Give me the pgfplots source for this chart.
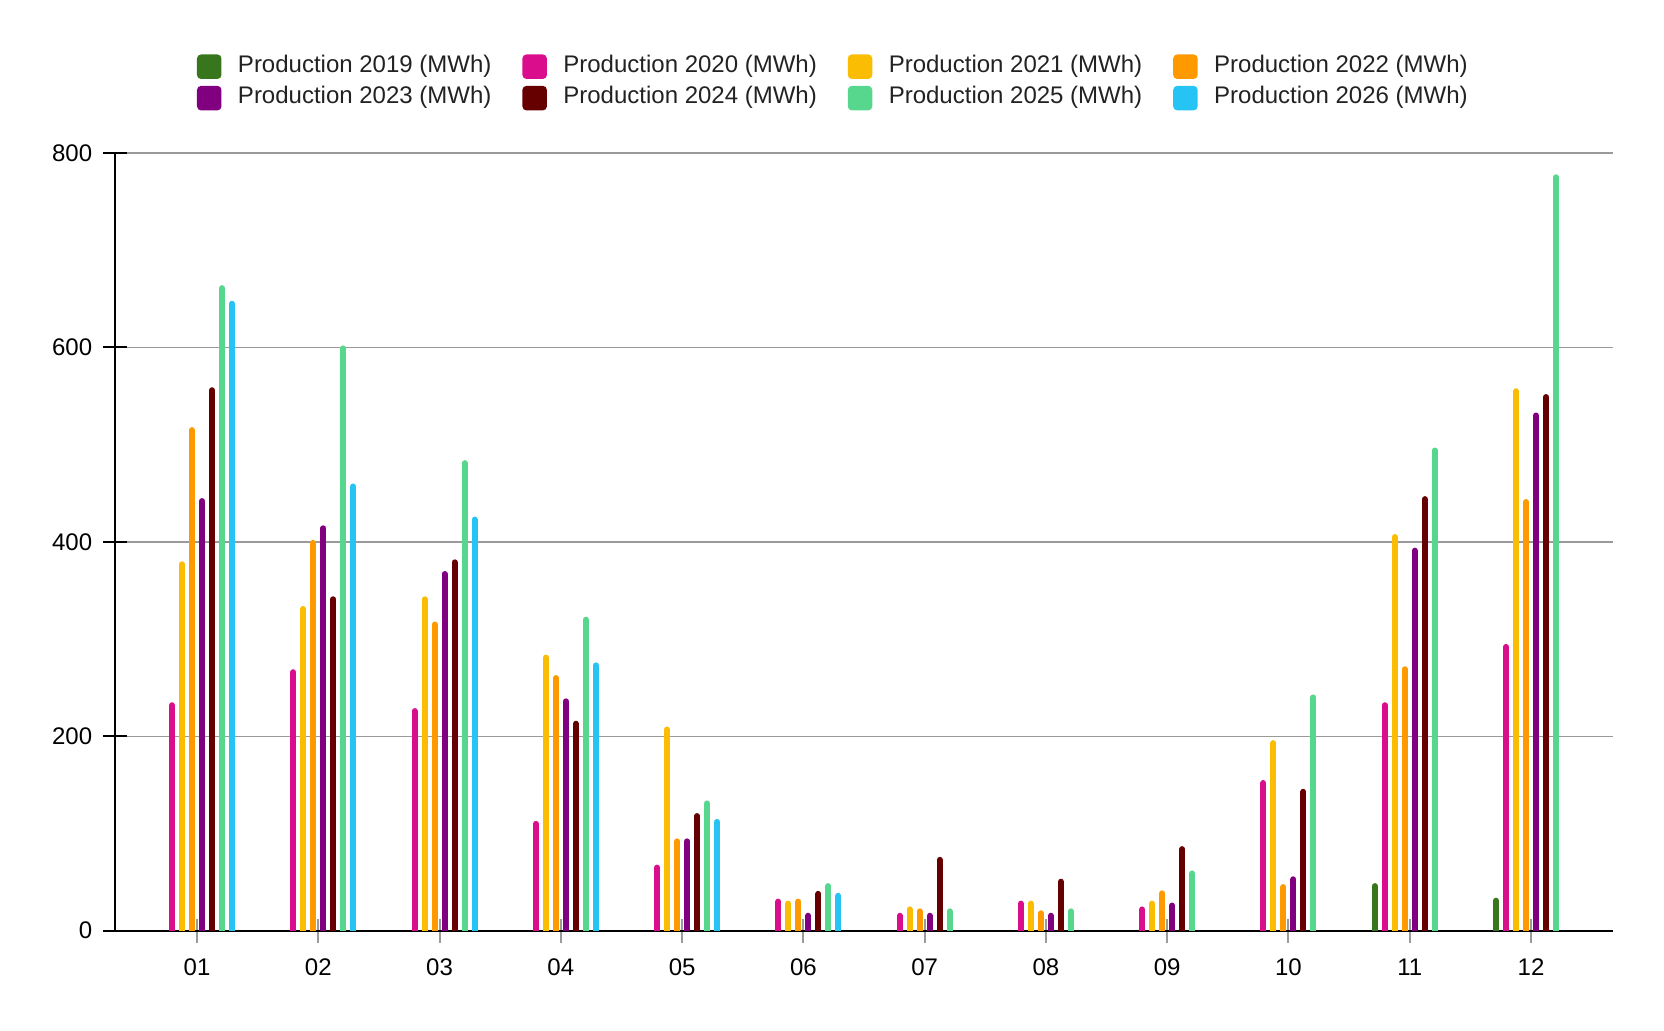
\documentclass[border=0pt]{standalone}
\usepackage{fontspec}
\setmainfont{Liberation Sans}
\usepackage{pgfplots}
\usepackage{pgfplotstable}
\pgfplotsset{compat=1.18}

\definecolor{c19}{HTML}{38761D}
\definecolor{c20}{HTML}{DA0E8C}
\definecolor{c21}{HTML}{FBBC04}
\definecolor{c22}{HTML}{FF9900}
\definecolor{c23}{HTML}{800080}
\definecolor{c24}{HTML}{660000}
\definecolor{c25}{HTML}{57D68D}
\definecolor{c26}{HTML}{26C4F4}
\definecolor{gridgray}{HTML}{9A9A9A}
\definecolor{legtext}{HTML}{222222}

\pgfplotstableread{
m  v19 v20  v21 v22  v23  v24  v25 v26
1  nan 235  380 518  445  559  664 648
2  nan 269  334 402  417  344  602 460
3  nan 229  344 318  370  382  484 426
4  nan 113  284 263  239  216  323 276
5  nan 68   210 95   95   121  134 115
6  nan 33   31  33   18.5 41   49  39
7  nan 18.5 25  23   18.5 76   23  nan
8  nan 31   31  21   18.5 53.5 23  nan
9  nan 25   31  41.5 29   87   62  nan
10 nan 155  196 48   56   146  243 nan
11 49  235  408 272  394  447  497 nan
12 34  295  558 444  533  552  778 nan
}\data

\pgfplotsset{
  mybar/.style={ycomb, line width=3pt, line cap=round, mark=none, color=#1, yshift=-1.5pt,
    legend image code/.code={\fill[#1, draw=none, line width=0pt, rounded corners=2pt] (0pt,-6.125pt) rectangle (12.25pt,6.125pt); \path[draw=none] (20.5pt,0pt);}},
}
\newcommand{\lt}[1]{\makebox[142.2pt][l]{#1}}

\begin{document}
\begin{tikzpicture}
\useasboundingbox (-57.5pt,-49.65pt) rectangle (774.5pt,465.35pt);
\begin{axis}[
  at={(0pt,0pt)}, anchor=south west, scale only axis,
  width=748.85pt, height=388.9pt,
  xmin=0.3238, xmax=12.6737, ymin=0, ymax=800,
  axis lines*=left,
  axis line style={black, line width=1pt},
  xtick={1,...,12},
  xticklabels={01,02,03,04,05,06,07,08,09,10,11,12},
  ytick={0,200,400,600,800},
  tick align=center,
  major tick length=11.8pt,
  xtick style={color=gridgray, line width=1pt},
  ytick style={color=black, line width=1pt},
  ymajorgrids,
  major grid style={color=gridgray, line width=0.75pt},
  tick label style={font=\fontsize{12}{14.4}\selectfont, text=black},
  /pgf/number format/assume math mode=true,
  yticklabel style={anchor=east, inner sep=0pt, xshift=-5.3pt},
  xticklabel style={anchor=north, inner sep=0pt, yshift=-8pt},
  legend columns=4,
  legend cell align=left,
  legend style={at={(0.05475,1.1304)}, anchor=north west, draw=none, fill=none,
    inner sep=0pt, outer sep=0pt, column sep=0pt, row sep=2pt,
    font=\fontsize{12}{14.4}\selectfont, text=legtext,
    nodes={inner sep=0pt, text depth=1.8pt, text height=10.4pt}},
]
\addplot[mybar=c19] table[x expr=\thisrow{m}-0.2886, y=v19]{\data};
\addlegendentry{\lt{Production 2019 (MWh)}}
\addplot[mybar=c20] table[x expr=\thisrow{m}-0.2062, y=v20]{\data};
\addlegendentry{\lt{Production 2020 (MWh)}}
\addplot[mybar=c21] table[x expr=\thisrow{m}-0.1237, y=v21]{\data};
\addlegendentry{\lt{Production 2021 (MWh)}}
\addplot[mybar=c22] table[x expr=\thisrow{m}-0.0412, y=v22]{\data};
\addlegendentry{\lt{Production 2022 (MWh)}}
\addplot[mybar=c23] table[x expr=\thisrow{m}+0.0412, y=v23]{\data};
\addlegendentry{\lt{Production 2023 (MWh)}}
\addplot[mybar=c24] table[x expr=\thisrow{m}+0.1237, y=v24]{\data};
\addlegendentry{\lt{Production 2024 (MWh)}}
\addplot[mybar=c25] table[x expr=\thisrow{m}+0.2062, y=v25]{\data};
\addlegendentry{\lt{Production 2025 (MWh)}}
\addplot[mybar=c26] table[x expr=\thisrow{m}+0.2886, y=v26]{\data};
\addlegendentry{\lt{Production 2026 (MWh)}}
\end{axis}
\end{tikzpicture}
\end{document}
